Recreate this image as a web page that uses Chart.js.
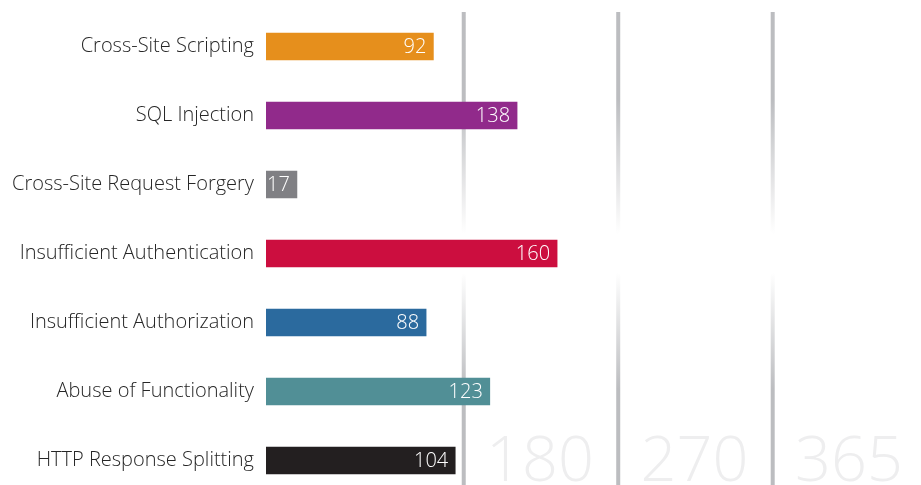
<!DOCTYPE html>
<html>
<head>
<meta charset="utf-8">
<script src="https://cdn.jsdelivr.net/npm/chart.js@4.4.1/dist/chart.umd.min.js"></script>
<style>
  html, body { margin: 0; padding: 0; background: #fff; }
  body { width: 921px; height: 485px; overflow: hidden; }
  #wrap { width: 921px; height: 497px; }
</style>
</head>
<body>
<div id="wrap"><canvas id="chart" width="921" height="497"></canvas></div>
<script>
// Chart values
const categories = [
  "Cross-Site Scripting",
  "SQL Injection",
  "Cross-Site Request Forgery",
  "Insufficient Authentication",
  "Insufficient Authorization",
  "Abuse of Functionality",
  "HTTP Response Splitting"
];
const values = [92, 138, 17, 160, 88, 123, 104];
const barColors = ["#e68f1c", "#912a8b", "#808084", "#cc0e3f", "#2b6a9e", "#518f96", "#231f20"];
// day thresholds shown as big labels, one per evenly spaced slot
const thresholdLabels = ["180", "270", "365"];
const thresholdSlots = [0, 1, 2];

const FONT = "'Open Sans', 'Noto Sans', sans-serif";

// vertical lines + large faded numbers behind the bars
const thresholdPlugin = {
  id: "thresholds",
  beforeDatasetsDraw(chart) {
    const { ctx, chartArea } = chart;
    const slotScale = chart.scales.slots;
    const top = chartArea.top;
    const bottom = chartArea.bottom;

    const grad = ctx.createLinearGradient(0, top, 0, bottom);
    grad.addColorStop(0, "#bcbdc0");
    grad.addColorStop(0.18, "#bcbdc0");
    grad.addColorStop(0.46, "rgba(255,255,255,1)");
    grad.addColorStop(0.54, "rgba(255,255,255,1)");
    grad.addColorStop(0.78, "#bcbdc0");
    grad.addColorStop(1, "#bcbdc0");

    ctx.save();
    thresholdSlots.forEach((slot, i) => {
      const x = slotScale.getPixelForValue(slot);
      const next = slotScale.getPixelForValue(slot + 1);
      ctx.fillStyle = grad;
      ctx.fillRect(x - 2, top, 4, bottom - top);

      ctx.fillStyle = "#eeeeef";
      ctx.font = "300 63px " + FONT;
      ctx.textAlign = "center";
      ctx.textBaseline = "alphabetic";
      ctx.fillText(thresholdLabels[i], (x + next) / 2 - 1, bottom - 14);
    });
    ctx.restore();
  },
  afterDatasetsDraw(chart) {
    // value labels inside bar ends
    const { ctx } = chart;
    const meta = chart.getDatasetMeta(0);
    ctx.save();
    ctx.fillStyle = "#ffffff";
    ctx.font = "300 20px " + FONT;
    ctx.textAlign = "right";
    ctx.textBaseline = "middle";
    meta.data.forEach((bar, i) => {
      ctx.fillText(String(values[i]), bar.x - 7, bar.y + 1);
    });
    ctx.restore();
  }
};

new Chart(document.getElementById("chart").getContext("2d"), {
  type: "bar",
  data: {
    labels: categories,
    datasets: [
      {
        data: values,
        backgroundColor: barColors,
        borderWidth: 0,
        barThickness: 27
      }
    ]
  },
  options: {
    indexAxis: "y",
    responsive: false,
    devicePixelRatio: 1,
    animation: false,
    layout: { padding: { top: 12, right: 0, bottom: 2, left: 0 } },
    plugins: {
      legend: { display: false },
      tooltip: { enabled: false }
    },
    scales: {
      x: {
        type: "linear",
        min: 0,
        max: 360,
        display: false
      },
      slots: {
        type: "linear",
        axis: "x",
        position: "top",
        min: -1.28,
        max: 2.96,
        display: false
      },
      y: {
        type: "category",
        afterFit(scale) {
          scale.width = 266;
          // labels should not push the plot area in
          scale.paddingTop = 0;
          scale.paddingBottom = 0;
        },
        grid: { display: false, drawTicks: false },
        border: { display: false },
        ticks: {
          padding: 12,
          color: "#262626",
          font: { family: FONT, size: 20, weight: 300 }
        }
      }
    }
  },
  plugins: [thresholdPlugin]
});
</script>
</body>
</html>
